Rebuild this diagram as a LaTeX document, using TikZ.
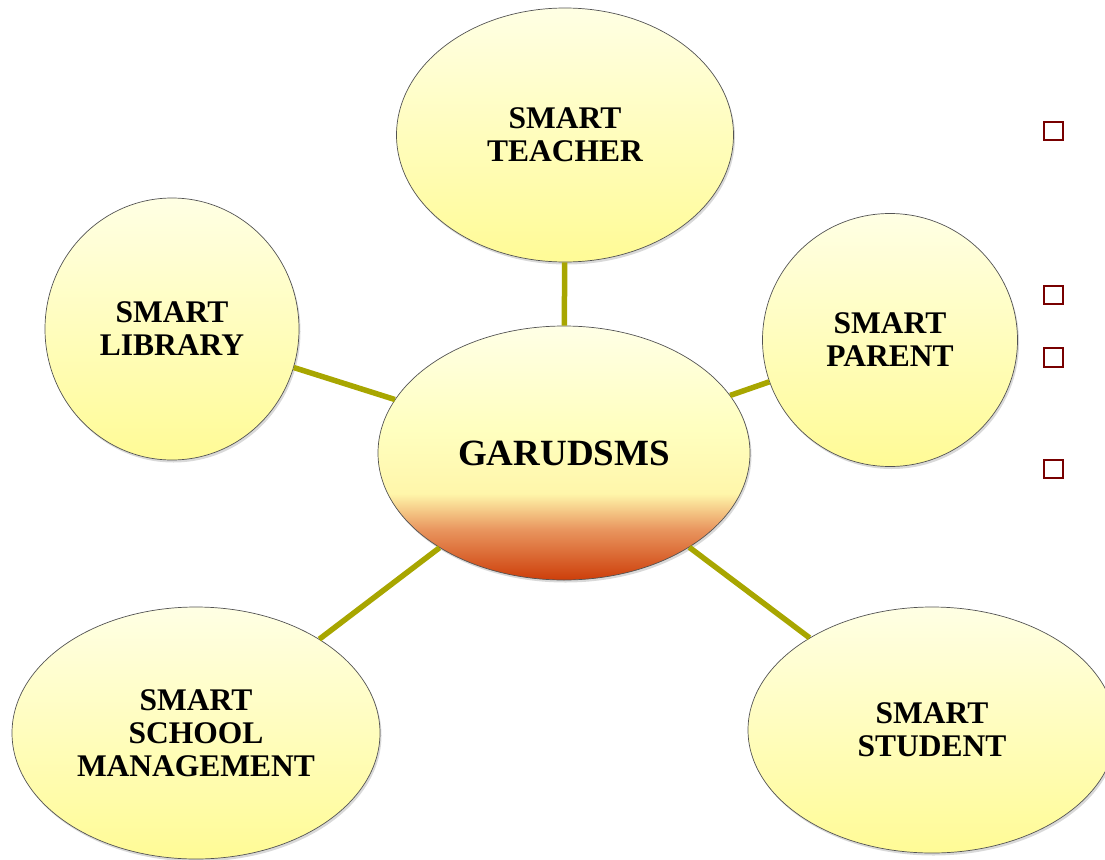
\documentclass[tikz,border=0pt]{standalone}
\usepackage{fontspec}
\setmainfont{Liberation Serif}
\usetikzlibrary{shapes.geometric,shadows}
\definecolor{linkol}{RGB}{168,166,0}
\definecolor{boxred}{RGB}{120,0,0}
\definecolor{ytop}{RGB}{255,255,228}
\definecolor{ybot}{RGB}{255,251,150}
\definecolor{cred}{RGB}{205,62,10}
\definecolor{corange}{RGB}{233,150,95}
\definecolor{cyel}{RGB}{255,246,170}
\definecolor{cyel2}{RGB}{255,255,192}
\definecolor{ctop}{RGB}{255,255,230}
\pgfdeclareverticalshading{centershade}{100bp}{color(0bp)=(cred); color(25bp)=(cred); color(35bp)=(corange); color(42bp)=(cyel); color(55bp)=(cyel2); color(75bp)=(ctop); color(100bp)=(ctop)}
\tikzset{
  bubble/.style={ellipse, draw=gray!65!black, line width=0.7pt, inner sep=0pt,
    top color=ytop, bottom color=ybot, align=center,
    font=\fontsize{31.5}{33}\selectfont\bfseries,
    drop shadow={shadow xshift=1.5pt, shadow yshift=-2.5pt, opacity=0.3, fill=gray}},
  hub/.style={ellipse, draw=gray!65!black, line width=0.7pt, inner sep=0pt,
    shading=centershade, align=center,
    font=\fontsize{37}{40}\selectfont\bfseries,
    drop shadow={shadow xshift=1.5pt, shadow yshift=-2.5pt, opacity=0.3, fill=gray}},
  link/.style={draw=linkol, line width=5.5pt},
  bullet/.style={draw=boxred, line width=2.4pt, minimum size=18.5pt, inner sep=0pt}
}
\begin{document}
\begin{tikzpicture}[x=1pt,y=-1pt]
\useasboundingbox (0,0) rectangle (1105,859);
\node[hub, minimum width=372pt, minimum height=254pt] (hub) at (564,453) {GARUDSMS};
\node[bubble, minimum width=337pt, minimum height=254pt] (teacher) at (565,135) {SMART\\TEACHER};
\node[bubble, minimum width=254pt, minimum height=262pt] (library) at (172,329) {SMART\\LIBRARY};
\node[bubble, minimum width=255pt, minimum height=253pt] (parent) at (890,340) {SMART\\PARENT};
\node[bubble, minimum width=368pt, minimum height=252pt] (school) at (196,733) {SMART\\SCHOOL\\MANAGEMENT};
\node[bubble, minimum width=368pt, minimum height=246pt] (student) at (932,730) {SMART\\STUDENT};
\draw[link] (hub) -- (teacher);
\draw[link] (hub) -- (library);
\draw[link] (hub) -- (parent);
\draw[link] (hub) -- (school);
\draw[link] (hub) -- (student);
\node[bullet] (b1) at (1053.5,131) {};
\node[bullet] (b2) at (1053.5,295) {};
\node[bullet] (b3) at (1053.5,357.5) {};
\node[bullet] (b4) at (1053.5,469) {};
\end{tikzpicture}
\end{document}
